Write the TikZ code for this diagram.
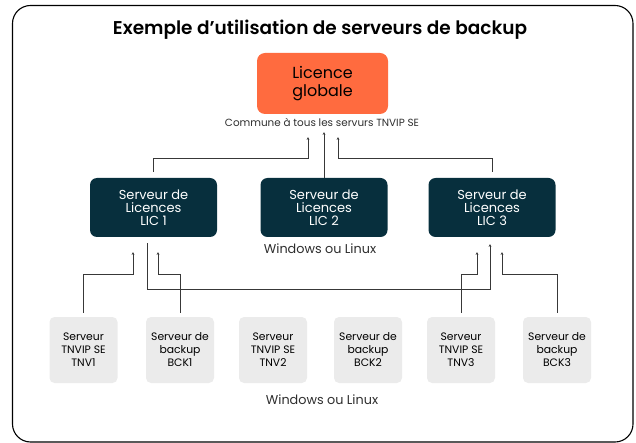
\documentclass[tikz,border=0pt]{standalone}
\usepackage{fontspec}
\setmainfont{Poppins}
\newfontfamily\titlefont{Poppins SemiBold}
\usetikzlibrary{arrows.meta,calc}
\definecolor{orangeL}{HTML}{FF6B3F}
\definecolor{tealD}{HTML}{072F3D}
\definecolor{grayB}{HTML}{EBEBEB}
\definecolor{lineC}{HTML}{383838}
\definecolor{txtC}{HTML}{2E2E2E}
\begin{document}
\begin{tikzpicture}[x=1pt,y=-1pt,
  licbox/.style={rectangle,rounded corners=7pt,fill=tealD,text=white,minimum width=127pt,minimum height=59pt,align=center,font=\fontsize{13}{13}\selectfont,inner sep=0pt},
  srvbox/.style={rectangle,rounded corners=5pt,fill=grayB,text=black,minimum width=68pt,minimum height=66pt,align=center,font=\fontsize{10.8}{13}\selectfont,inner sep=0pt},
  conn/.style={draw=lineC,line width=0.9pt},
  arr/.style={conn,-{Stealth[length=2.6pt,width=2.6pt]}},
  note/.style={text=txtC,inner sep=0pt}
]
\useasboundingbox (0,0) rectangle (636,443);
\draw[line width=1.1pt,rounded corners=18pt] (12.5,5.5) rectangle (633,442);

\node[inner sep=0pt,anchor=base,font=\fontsize{18.5}{20}\titlefont] (title) at (320,35) {Exemple d’utilisation de serveurs de backup};

\node[rectangle,rounded corners=8pt,fill=orangeL,minimum width=131pt,minimum height=61pt,align=center,font=\fontsize{16}{18}\selectfont,inner sep=0pt] (glob) at (322.5,83.5) {Licence\\globale};
\node[note,anchor=base,font=\fontsize{10.4}{12}\selectfont] (commune) at (322,127) {Commune à tous les servurs TNVIP SE};

\node[licbox] (lic1) at (153.5,207.5) {Serveur de\\Licences\\LIC 1};
\node[licbox] (lic2) at (324,207.5) {Serveur de\\Licences\\LIC 2};
\node[licbox] (lic3) at (492,207.5) {Serveur de\\Licences\\LIC 3};
\node[note,font=\fontsize{12.8}{14}\selectfont] (win1) at (320,249) {Windows ou Linux};

\node[srvbox] (t1) at (83.5,350) {Serveur\\TNVIP SE\\TNV1};
\node[srvbox] (b1) at (180,350) {Serveur de\\backup\\BCK1};
\node[srvbox] (t2) at (273,350) {Serveur\\TNVIP SE\\TNV2};
\node[srvbox] (b2) at (368,350) {Serveur de\\backup\\BCK2};
\node[srvbox] (t3) at (461,350) {Serveur\\TNVIP SE\\TNV3};
\node[srvbox] (b3) at (557,350) {Serveur de\\backup\\BCK3};
\node[note,font=\fontsize{12.8}{14}\selectfont] (win2) at (322,400) {Windows ou Linux};

% targets on the global licence
\coordinate (g1) at ([xshift=-14.5pt,yshift=-23pt]glob.south);
\coordinate (g2) at ([xshift=1.5pt,yshift=-18pt]glob.south);
\coordinate (g3) at ([xshift=15.5pt,yshift=-23pt]glob.south);
% targets below licence servers
\coordinate (a1) at ([xshift=-20.5pt,yshift=-15pt]lic1.south);
\coordinate (a2) at ([xshift=4.5pt,yshift=-15pt]lic1.south);
\coordinate (a3) at ([xshift=-2pt,yshift=-7pt]lic3.south);
\coordinate (a4) at ([xshift=-15pt,yshift=-15pt]lic3.south);
\coordinate (a5) at ([xshift=10pt,yshift=-15pt]lic3.south);

\draw[arr] ([yshift=6pt]lic1.north) -- ++(0,-13) -| (g1);
\draw[arr] (lic2.north) -- (g2);
\draw[arr] ([yshift=6pt]lic3.north) -- ++(0,-13) -| (g3);

\draw[arr] ([xshift=-6.5pt,yshift=-6pt]lic1.south) -- ++(0,46) -| (a3);
\draw[arr] ([yshift=4pt]t1.north) -- ++(0,-38) -| (a1);
\draw[arr] ([yshift=4pt]b1.north) -- ++(0,-38) -| (a2);
\draw[arr] ([yshift=4pt]t3.north) -- ++(0,-38) -| (a4);
\draw[arr] ([yshift=4pt]b3.north) -- ++(0,-38) -| (a5);
\end{tikzpicture}
\end{document}
